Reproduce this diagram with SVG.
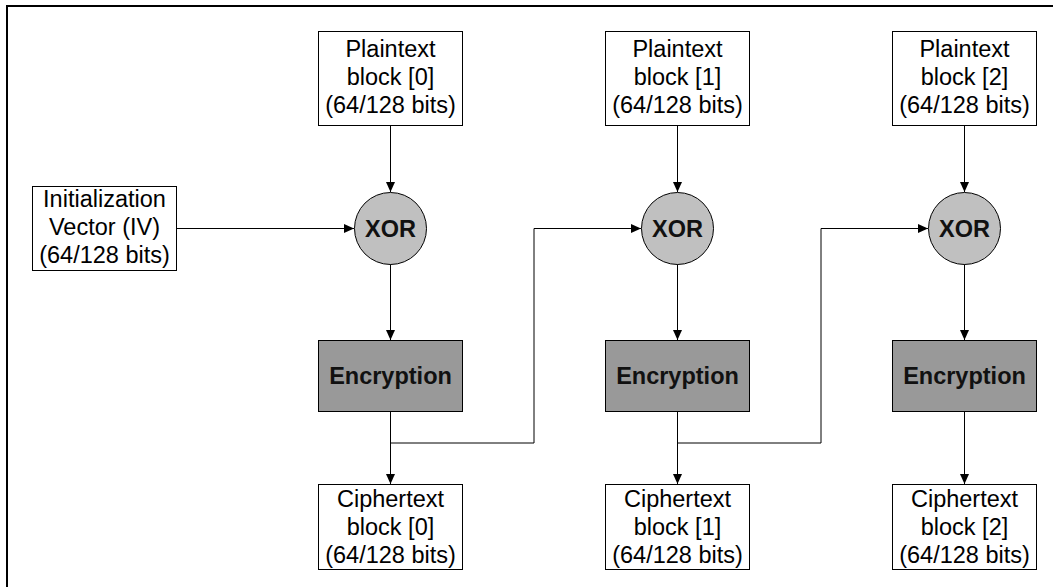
<svg xmlns="http://www.w3.org/2000/svg" width="1053" height="587" viewBox="0 0 1053 587">
<style>
.box{fill:#fff;stroke:#000;stroke-width:1}
.enc{fill:#999;stroke:#000;stroke-width:1}
.xor{fill:#c0c0c0;stroke:#000;stroke-width:1}
.t{font-family:"Liberation Sans",Arial,sans-serif;font-size:23.5px;fill:#000;text-anchor:middle}
.b{font-family:"Liberation Sans",Arial,sans-serif;font-size:23.5px;font-weight:bold;fill:#111;text-anchor:middle}
.c{fill:none;stroke:#000;stroke-width:1}
</style>
<defs>
<marker id="ah" viewBox="0 0 10 10" refX="10" refY="5" markerWidth="10" markerHeight="10" markerUnits="userSpaceOnUse" orient="auto">
<path d="M0,0.5 L10,5 L0,9.5 Z" fill="#000"/>
</marker>
</defs>
<rect width="1053" height="587" fill="#fff"/>
<path d="M7,587 V6 H1053" fill="none" stroke="#000" stroke-width="2"/>

<g id="connectors">
<line class="c" x1="176" y1="228.5" x2="354" y2="228.5" marker-end="url(#ah)"/>
<line class="c" x1="390.5" y1="125" x2="390.5" y2="192" marker-end="url(#ah)"/>
<line class="c" x1="390.5" y1="264" x2="390.5" y2="340" marker-end="url(#ah)"/>
<line class="c" x1="390.5" y1="412" x2="390.5" y2="484" marker-end="url(#ah)"/>
<polyline class="c" points="390.5,443 534,443 534,228.5 641,228.5" marker-end="url(#ah)"/>
<line class="c" x1="677.5" y1="125" x2="677.5" y2="192" marker-end="url(#ah)"/>
<line class="c" x1="677.5" y1="264" x2="677.5" y2="340" marker-end="url(#ah)"/>
<line class="c" x1="677.5" y1="412" x2="677.5" y2="484" marker-end="url(#ah)"/>
<polyline class="c" points="677.5,443 821,443 821,228.5 928,228.5" marker-end="url(#ah)"/>
<line class="c" x1="964.5" y1="125" x2="964.5" y2="192" marker-end="url(#ah)"/>
<line class="c" x1="964.5" y1="264" x2="964.5" y2="340" marker-end="url(#ah)"/>
<line class="c" x1="964.5" y1="412" x2="964.5" y2="484" marker-end="url(#ah)"/>
</g>

<g id="iv">
<rect class="box" x="32.5" y="186.5" width="144" height="84"/>
<text class="t" x="104.5" y="207">Initialization</text>
<text class="t" x="104.5" y="235">Vector (IV)</text>
<text class="t" x="104.5" y="263">(64/128 bits)</text>
</g>

<g id="plain0">
<rect class="box" x="318.5" y="31.5" width="144" height="94"/>
<text class="t" x="390.5" y="56.5">Plaintext</text>
<text class="t" x="390.5" y="84.5">block [0]</text>
<text class="t" x="390.5" y="112.5">(64/128 bits)</text>
</g>
<g id="plain1">
<rect class="box" x="605.5" y="31.5" width="144" height="94"/>
<text class="t" x="677.5" y="56.5">Plaintext</text>
<text class="t" x="677.5" y="84.5">block [1]</text>
<text class="t" x="677.5" y="112.5">(64/128 bits)</text>
</g>
<g id="plain2">
<rect class="box" x="892.5" y="31.5" width="144" height="94"/>
<text class="t" x="964.5" y="56.5">Plaintext</text>
<text class="t" x="964.5" y="84.5">block [2]</text>
<text class="t" x="964.5" y="112.5">(64/128 bits)</text>
</g>

<g id="xor0">
<circle class="xor" cx="390.5" cy="228.5" r="36"/>
<text class="b" x="390.5" y="236.5">XOR</text>
</g>
<g id="xor1">
<circle class="xor" cx="677.5" cy="228.5" r="36"/>
<text class="b" x="677.5" y="236.5">XOR</text>
</g>
<g id="xor2">
<circle class="xor" cx="964.5" cy="228.5" r="36"/>
<text class="b" x="964.5" y="236.5">XOR</text>
</g>

<g id="enc0">
<rect class="enc" x="318.5" y="340.5" width="144" height="71"/>
<text class="b" x="390.5" y="384">Encryption</text>
</g>
<g id="enc1">
<rect class="enc" x="605.5" y="340.5" width="144" height="71"/>
<text class="b" x="677.5" y="384">Encryption</text>
</g>
<g id="enc2">
<rect class="enc" x="892.5" y="340.5" width="144" height="71"/>
<text class="b" x="964.5" y="384">Encryption</text>
</g>

<g id="cipher0">
<rect class="box" x="318.5" y="484.5" width="144" height="85"/>
<text class="t" x="390.5" y="507">Ciphertext</text>
<text class="t" x="390.5" y="535">block [0]</text>
<text class="t" x="390.5" y="563">(64/128 bits)</text>
</g>
<g id="cipher1">
<rect class="box" x="605.5" y="484.5" width="144" height="85"/>
<text class="t" x="677.5" y="507">Ciphertext</text>
<text class="t" x="677.5" y="535">block [1]</text>
<text class="t" x="677.5" y="563">(64/128 bits)</text>
</g>
<g id="cipher2">
<rect class="box" x="892.5" y="484.5" width="144" height="85"/>
<text class="t" x="964.5" y="507">Ciphertext</text>
<text class="t" x="964.5" y="535">block [2]</text>
<text class="t" x="964.5" y="563">(64/128 bits)</text>
</g>
</svg>
